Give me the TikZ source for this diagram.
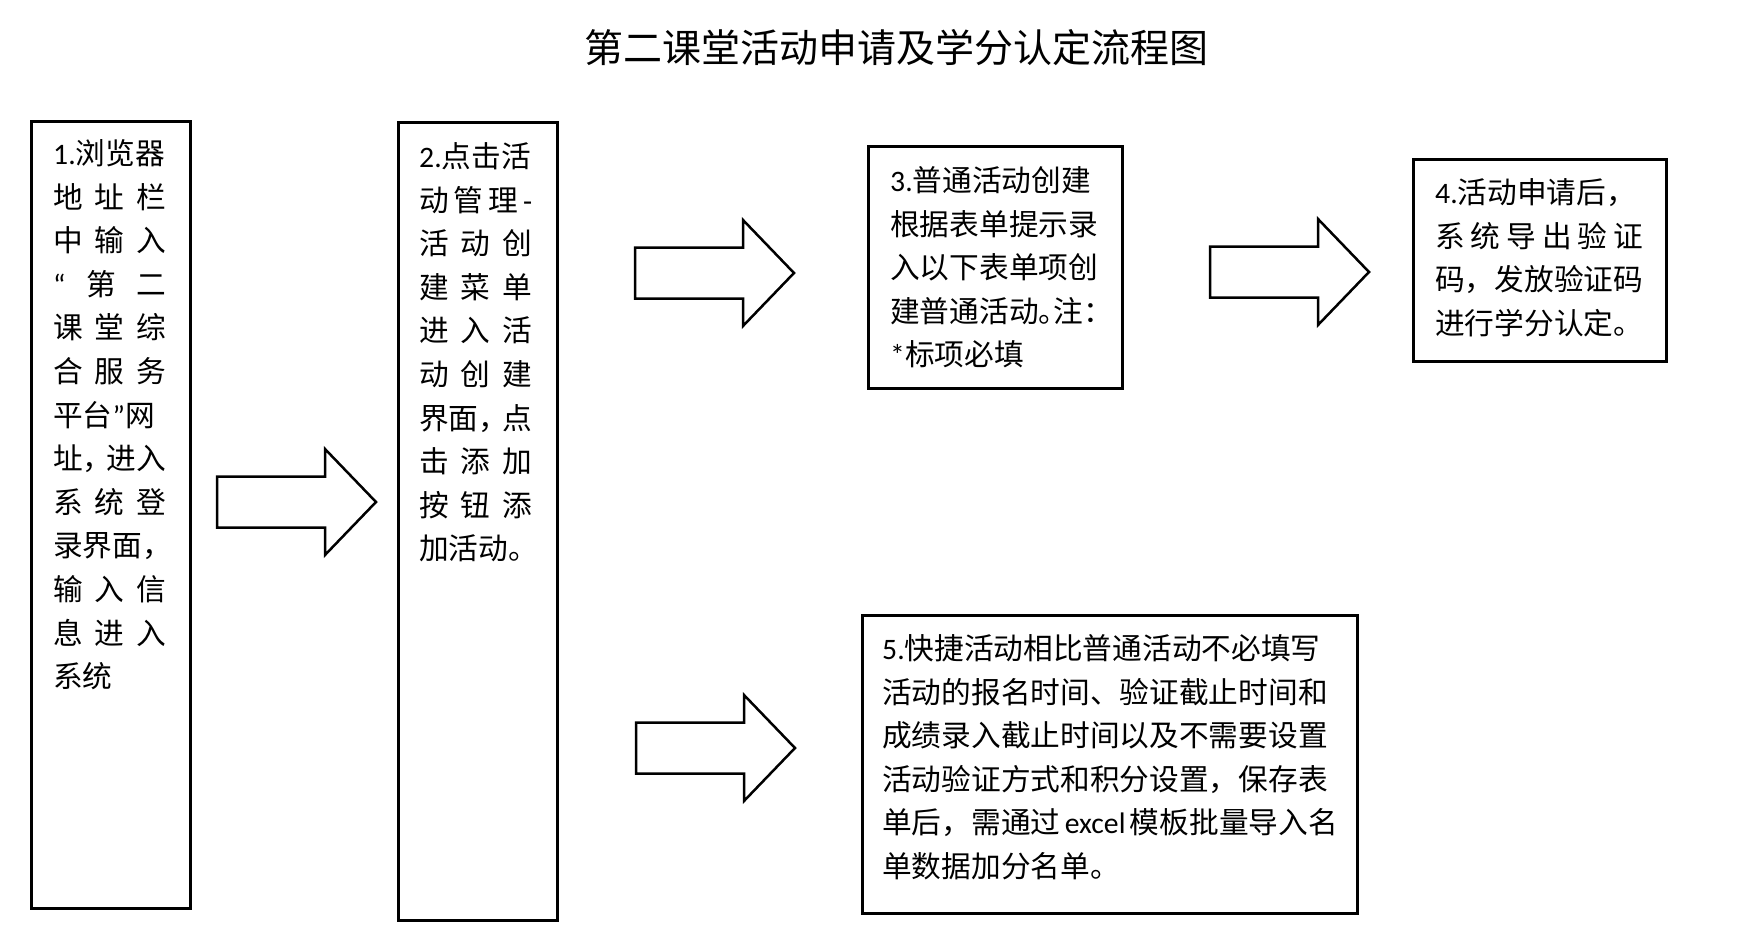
\documentclass[tikz,border=0pt]{standalone}
\usepackage{fontspec}
\usetikzlibrary{shapes,arrows}
\newfontfamily\cjk{Noto Sans CJK SC}
\newfontfamily\latin{Carlito}
\newcommand{\jline}[1]{\makebox[\linewidth][s]{\spaceskip=0pt plus 1fil #1}}
\newcommand{\hp}[1]{\makebox[.5em][l]{#1}}
\tikzset{
  frame/.style={draw,line width=3pt,inner sep=0pt,anchor=north west},
  steptext/.style={anchor=base west,inner sep=0pt,align=left,font=\cjk\fontsize{29.7}{43.6}\selectfont},
  bigarrow/.pic={\draw[line width=2.5pt,line join=miter] (0,-25.5) -- (108,-25.5) -- (108,-53) -- (159,0) -- (108,53) -- (108,25.5) -- (0,25.5) -- cycle;}
}

\begin{document}
\begin{tikzpicture}[x=1pt,y=-1pt]
\useasboundingbox (0,0) rectangle (1742,939);
\node[font=\cjk\fontsize{39}{39}\selectfont,anchor=base,inner sep=0pt] (title) at (896,62.8) {第二课堂活动申请及学分认定流程图};
% frames
\node[frame,minimum width=159pt,minimum height=787pt] (box1) at (30,120) {};
\node[frame,minimum width=159pt,minimum height=798pt] (box2) at (397,121) {};
\node[frame,minimum width=254pt,minimum height=242pt] (box3) at (867,145) {};
\node[frame,minimum width=253pt,minimum height=202pt] (box4) at (1412,158) {};
\node[frame,minimum width=495pt,minimum height=298pt] (box5) at (861,614) {};
% texts
\node[steptext,text width=113pt] (text1) at (53,164.4) {{\latin 1.}浏览器\\
\jline{地 址 栏}\\
\jline{中 输 入}\\
\jline{{\latin “} 第 二}\\
\jline{课 堂 综}\\
\jline{合 服 务}\\
平台{\latin ”}网\\
\jline{址\hp{，} 进入}\\
\jline{系 统 登}\\
录界面，\\
\jline{输 入 信}\\
\jline{息 进 入}\\
系统};
\node[steptext,text width=113pt] (text2) at (419,167.4) {{\latin 2.}点击活\\
\jline{动 管 理 {\latin -}}\\
\jline{活 动 创}\\
\jline{建 菜 单}\\
\jline{进 入 活}\\
\jline{动 创 建}\\
\jline{界面\hp{，} 点}\\
\jline{击 添 加}\\
\jline{按 钮 添}\\
加活动。};
\node[steptext,text width=208pt] (text3) at (890,191.4) {{\latin 3.}普通活动创建\\
根据表单提示录\\
入以下表单项创\\
建普通活动\hp{。}注\hp{：}\\
{\latin *}标项必填};
\node[steptext,text width=208pt] (text4) at (1435,203.4) {{\latin 4.}活动申请后，\\
\jline{系 统 导 出 验 证}\\
码，发放验证码\\
进行学分认定。};
\node[steptext,text width=450pt] (text5) at (882,659.4) {{\latin 5.}快捷活动相比普通活动不必填写\\
活动的报名时间、验证截止时间和\\
成绩录入截止时间以及不需要设置\\
活动验证方式和积分设置，保存表\\
\mbox{单后，需通过\hspace{.15em}{\latin excel}\hspace{.15em}模板批量导入名}\\
单数据加分名单。};
% arrows
\pic at (217,502) {bigarrow};
\pic at (635,273) {bigarrow};
\pic at (1210,272) {bigarrow};
\pic at (636,748) {bigarrow};
\end{tikzpicture}
\end{document}
